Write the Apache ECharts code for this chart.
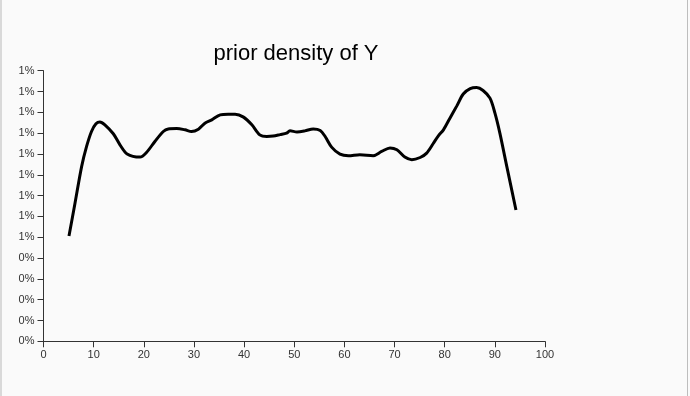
<!DOCTYPE html>
<html>
<head>
<meta charset="utf-8">
<script src="https://cdn.jsdelivr.net/npm/echarts@6/dist/echarts.min.js"></script>
<style>
html,body{margin:0;padding:0;background:#fafafa;}
#frame{position:absolute;left:0;top:0;width:688px;height:396px;border-left:2px solid #d9d9d9;border-right:1px solid #bdbdbd;box-sizing:border-box;}
#chart{position:absolute;left:0;top:0;width:690px;height:396px;}
</style>
</head>
<body>
<div id="frame"></div>
<div id="chart"></div>
<script>
// Y values (density)
const xValues = [5.08, 6.28, 7.60, 8.59, 9.57, 10.46, 11.25, 12.24, 13.92, 15.25, 16.68, 19.25, 20.53, 22.21, 23.89, 24.87, 26.55, 28.23, 29.51, 30.89, 32.18, 33.56, 35.24, 36.82, 38.20, 39.88, 41.55, 43.13, 44.52, 45.80, 47.18, 48.46, 49.15, 50.54, 52.12, 53.79, 55.18, 56.16, 57.45, 59.12, 60.80, 63.07, 65.74, 67.42, 69.09, 70.47, 72.05, 73.44, 75.11, 76.40, 77.68, 78.77, 79.75, 81.04, 82.42, 83.70, 85.08, 86.37, 87.65, 89.03, 90.02, 91.00, 92.39, 94.21];
const densityValues = [0.00506, 0.00663, 0.00839, 0.00936, 0.01008, 0.01045, 0.01054, 0.0104, 0.00997, 0.00944, 0.0090, 0.00885, 0.00907, 0.0096, 0.01008, 0.0102, 0.01022, 0.01016, 0.01008, 0.01019, 0.01048, 0.01064, 0.01088, 0.01091, 0.01091, 0.01077, 0.0104, 0.00992, 0.00984, 0.00986, 0.00993, 0.0100, 0.01011, 0.01006, 0.01011, 0.0102, 0.01013, 0.00984, 0.00933, 0.00899, 0.00891, 0.00896, 0.00892, 0.00912, 0.00929, 0.0092, 0.00885, 0.00872, 0.00883, 0.00904, 0.00949, 0.00988, 0.01016, 0.01072, 0.01131, 0.01188, 0.01214, 0.01219, 0.01205, 0.01168, 0.01096, 0.0100, 0.00839, 0.00631];
const xTicks = [0, 10, 20, 30, 40, 50, 60, 70, 80, 90, 100];
const titleText = 'prior density of Y';

const chart = echarts.init(document.getElementById('chart'), null, {renderer: 'canvas'});
const FONT = 'Liberation Sans, Arial, sans-serif';
chart.setOption({
  backgroundColor: 'transparent',
  animation: false,
  title: {
    text: titleText,
    left: 291, top: 38, textAlign: 'center',
    textStyle: {fontFamily: FONT, fontSize: 22, fontWeight: 'normal', color: '#000'}
  },
  grid: {left: 43.5, right: 145, top: 70.7, bottom: 54.7, containLabel: false},
  xAxis: {
    type: 'value', min: 0, max: 100, interval: 10,
    axisLine: {show: true, onZero: false, lineStyle: {color: '#333', width: 1}},
    axisTick: {show: true, length: 6, lineStyle: {color: '#333'}},
    axisLabel: {fontFamily: FONT, fontSize: 11, color: '#333', margin: 8,
      formatter: v => String(xTicks[Math.round(v / 10)])},
    splitLine: {show: false}
  },
  yAxis: {
    type: 'value', min: 0, max: 0.013, interval: 0.001,
    axisLine: {show: true, lineStyle: {color: '#333', width: 1}},
    axisTick: {show: true, length: 6, lineStyle: {color: '#333'}},
    axisLabel: {
      fontFamily: FONT, fontSize: 11, color: '#333', margin: 9,
      formatter: v => Math.round(Math.round(v * 1e4) / 100) + '%'
    },
    splitLine: {show: false}
  },
  series: [{
    type: 'line',
    data: xValues.map((x, i) => [x, densityValues[i]]),
    smooth: 0.3,
    symbol: 'none',
    lineStyle: {color: '#000', width: 3}
  }]
});
</script>
</body>
</html>
